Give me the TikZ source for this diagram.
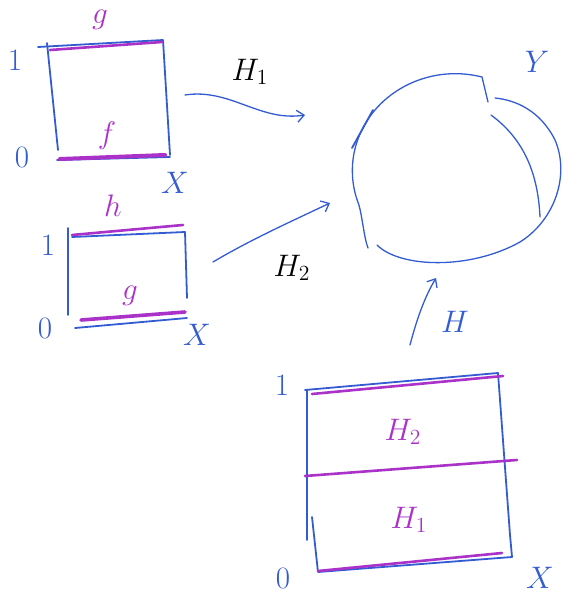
\documentclass[tikz,border=0pt]{standalone}
\usepackage{tikz}
\usetikzlibrary{positioning, arrows.meta, calc}
\usepackage{xcolor}
\definecolor{penblue}{RGB}{52,92,210}
\definecolor{penmag}{RGB}{170,50,200}

\begin{document}
\begin{tikzpicture}[
  x=1pt, y=-1pt,
  every node/.style={font=\LARGE, scale=1.8},
  pen/.style={penblue, line width=1.8pt, line cap=round, line join=round},
  thinpen/.style={penblue, line width=1.3pt, line cap=round},
  hl/.style={penmag, line width=2.6pt, line cap=round},
  maparrow/.style={thinpen, -{Straight Barb[length=7pt, width=12pt]}},
  bluelab/.style={text=penblue},
  maglab/.style={text=penmag}
]
\useasboundingbox (0,0) rectangle (572,597);

% first square: f and g
\draw[pen] (38,47) -- (163,40) -- (170,155);
\draw[pen] (47,43) -- (58,150);
\draw[pen] (57,160) -- (170,157);
\draw[hl] (50,50) -- (162,42);
\draw[hl, line width=4pt] (60,159) -- (165,155);
\node[bluelab] (one1) at (15,60) {$1$};
\node[bluelab] (zero1) at (22,157) {$0$};
\node[maglab] (g1) at (100,20) {$g$};
\node[maglab] (f1) at (107,136) {$f$};
\node[bluelab] (x1) at (175,183) {$X$};

% second square: g and h
\draw[pen] (68,228) -- (68,315);
\draw[pen] (72,237) -- (185,232) -- (187,298);
\draw[pen] (75,328) -- (187,318);
\draw[hl] (72,235) -- (183,225);
\draw[hl, line width=3.6pt] (81,320) -- (185,312);
\node[bluelab] (one2) at (48,245) {$1$};
\node[bluelab] (zero2) at (45,328) {$0$};
\node[maglab] (h2) at (113,206) {$h$};
\node[maglab] (g2) at (130,296) {$g$};
\node[bluelab] (x2) at (197,335) {$X$};

% the space Y
\draw[thinpen] (488,102) -- (482,77) arc[start angle=-75, end angle=-200, x radius=103, y radius=97]
  .. controls (362,214) and (364,238) .. (368,248);
\draw[thinpen] (377,245) .. controls (400,268) and (470,270) .. (520,242)
  .. controls (555,220) and (570,175) .. (555,140) .. controls (540,110) and (515,100) .. (495,98);
\draw[thinpen] (491,115) .. controls (525,140) and (538,175) .. (540,217);
\draw[pen] (352,148) -- (373,110);
\node[bluelab] (ylab) at (537,62) {$Y$};

% third square: H1 below, H2 above
\draw[pen] (307,390) -- (307,540);
\draw[pen] (312,517) -- (318,572) -- (512,557) -- (510,535) -- (498,373) -- (305,390);
\draw[hl] (312,394) -- (503,376);
\draw[hl] (305,476) -- (517,460);
\draw[hl] (318,571) -- (502,553);
\node[bluelab] (one3) at (282,385) {$1$};
\node[bluelab] (zero3) at (283,578) {$0$};
\node[bluelab] (x3) at (540,578) {$X$};
\node[maglab] (hh2) at (403,432) {$H_2$};
\node[maglab] (hh1) at (409,520) {$H_1$};

% the maps
\coordinate (a1) at (185,95);
\coordinate (b1) at (305,115);
\coordinate (a2) at (213,262);
\coordinate (b2) at (330,203);
\coordinate (a3) at (410,345);
\coordinate (b3) at (436,278);
\draw[maparrow] (a1) .. controls (230,88) and (260,122) .. (b1);
\draw[maparrow] (a2) .. controls (250,240) and (290,222) .. (b2);
\draw[maparrow] (a3) .. controls (416,322) and (424,298) .. (b3);
\node (lab1) at (250,72) {$H_1$};
\node (lab2) at (292,268) {$H_2$};
\node[bluelab] (lab3) at (455,322) {$H$};

\end{tikzpicture}
\end{document}
